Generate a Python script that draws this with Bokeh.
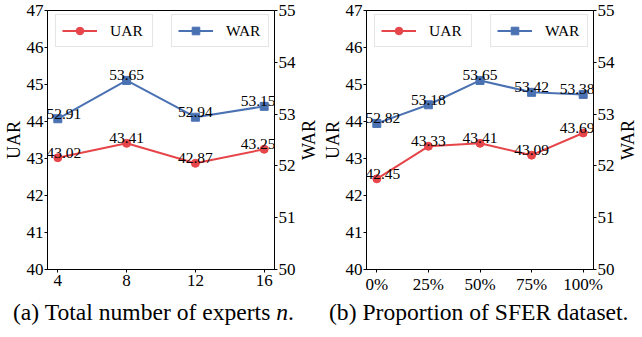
import math
from bokeh.plotting import figure
from bokeh.models import (Range1d, LinearAxis, FixedTicker, Legend, LegendItem,
                          Div, ColumnDataSource)
from bokeh.layouts import row, column
from bokeh.embed import file_html
from bokeh.resources import INLINE
from bokeh.core.properties import value

# ---- data ----
experts = [4, 8, 12, 16]
uar_experts = [43.02, 43.41, 42.87, 43.25]
war_experts = [52.91, 53.65, 52.94, 53.15]

proportions = ["0%", "25%", "50%", "75%", "100%"]
uar_prop = [42.45, 43.33, 43.41, 43.09, 43.69]
war_prop = [52.82, 53.18, 53.65, 53.42, 53.38]

uar_ticks = [40, 41, 42, 43, 44, 45, 46, 47]
war_ticks = [50, 51, 52, 53, 54, 55]

RED = "#E6454A"
BLUE = "#4A72B3"
FONT = "Liberation Serif"
FRAME_H = 259
FRAME_W = 227
B_TOP = 10
B_BOT = 24


def style_axis(ax):
    ax.axis_line_color = "black"
    ax.axis_line_width = 1
    ax.major_tick_line_color = "black"
    ax.major_tick_line_width = 1
    ax.major_tick_out = 3
    ax.major_tick_in = 0
    ax.minor_tick_line_color = None
    ax.major_label_text_font = FONT
    ax.major_label_text_font_size = "17px"
    ax.major_label_text_color = "black"
    ax.major_label_standoff = 1
    ax.axis_label_text_font = FONT
    ax.axis_label_text_font_size = "18px"
    ax.axis_label_text_font_style = "normal"
    ax.axis_label_text_color = "black"
    ax.axis_label_standoff = 0


def make_panel(xs, uar, war, xr, xticks, xlabels, bl, leg_x):
    p = figure(frame_width=FRAME_W, frame_height=FRAME_H, output_backend="svg",
               toolbar_location=None, x_range=Range1d(*xr), y_range=Range1d(40, 47),
               min_border_left=bl, min_border_right=22, min_border_top=B_TOP,
               min_border_bottom=B_BOT)
    p.background_fill_color = "white"
    p.border_fill_color = "white"
    p.outline_line_color = "black"
    p.outline_line_width = 1
    p.xgrid.visible = False
    p.ygrid.visible = False
    p.extra_y_ranges = {"war": Range1d(50, 55)}

    p.xaxis.ticker = FixedTicker(ticks=xticks)
    if xlabels is not None:
        p.xaxis.major_label_overrides = {t: l for t, l in zip(xticks, xlabels)}
    p.yaxis.ticker = FixedTicker(ticks=uar_ticks)
    p.yaxis.axis_label = "UAR"
    rax = LinearAxis(y_range_name="war", ticker=FixedTicker(ticks=war_ticks))
    p.add_layout(rax, "right")
    for ax in [p.xaxis[0], p.yaxis[0], rax]:
        style_axis(ax)
    p.xaxis.major_label_standoff = 2

    lu = p.line(xs, uar, line_color=RED, line_width=2)
    su = p.scatter(xs, uar, marker="circle", size=8, fill_color=RED, line_color=RED)
    lw = p.line(xs, war, line_color=BLUE, line_width=2, y_range_name="war")
    sw = p.scatter(xs, war, marker="square", size=8, fill_color=BLUE, line_color=BLUE,
                   y_range_name="war")

    n = len(xs)
    shifts = [6] + [0] * (n - 2) + [-6]
    src_u = ColumnDataSource(dict(x=xs, y=uar, t=[f"{v:.2f}" for v in uar], dx=shifts))
    src_w = ColumnDataSource(dict(x=xs, y=war, t=[f"{v:.2f}" for v in war], dx=shifts))
    for src, rng in [(src_u, "default"), (src_w, "war")]:
        p.text(x="x", y="y", text="t", x_offset="dx", y_offset=-5, source=src,
               y_range_name=rng, text_font=value(FONT), text_font_size="15.5px",
               text_align="center", text_baseline="alphabetic", text_color="black")

    for (name, rends), lx in zip([("UAR", [lu, su]), ("WAR", [lw, sw])], leg_x):
        leg = Legend(items=[LegendItem(label=name, renderers=rends)],
                     location=(lx, FRAME_H - 8 - 29),
                     label_text_font=FONT, label_text_font_size="15.5px",
                     label_text_color="black",
                     glyph_width=35, glyph_height=19, label_height=19, label_width=36,
                     label_standoff=13, padding=6, margin=0, spacing=0,
                     border_line_color="#cccccc", border_line_width=1,
                     background_fill_color="white", background_fill_alpha=0.8)
        p.add_layout(leg)
    return p


def side_label(text, w):
    # narrow strip carrying the right-hand axis title, read bottom-to-top
    q = figure(frame_width=w, frame_height=FRAME_H, output_backend="svg",
               toolbar_location=None, x_range=Range1d(0, 1), y_range=Range1d(0, 1),
               x_axis_location=None, y_axis_location=None,
               min_border_left=0, min_border_right=0, min_border_top=B_TOP,
               min_border_bottom=B_BOT)
    q.outline_line_color = None
    q.xgrid.visible = False
    q.ygrid.visible = False
    q.background_fill_color = "white"
    q.border_fill_color = "white"
    q.text(x=[0.5], y=[0.5], text=[text], angle=math.pi / 2, text_align="center",
           text_baseline="middle", text_font=value(FONT), text_font_size="18px",
           text_color="black")
    return q


p1 = make_panel(experts, uar_experts, war_experts, (3.4, 16.6), experts, None,
                43, (8, 124))
idx = list(range(len(proportions)))
p2 = make_panel(idx, uar_prop, war_prop, (-0.2, 4.2), idx, proportions,
                43, (8, 124))
w1 = side_label("WAR", 21)
w2 = side_label("WAR", 21)

cap_style = {"font-family": FONT, "font-size": "23.6px", "color": "black",
             "white-space": "nowrap"}
d1 = Div(text="(a) Total number of experts <i>n</i>.", width=299, height=30,
         margin=(0, 0, 0, 13), styles=cap_style)
d2 = Div(text="(b) Proportion of SFER dataset.", width=296, height=30,
         margin=(0, 0, 0, 17), styles=cap_style)

layout = column(row(p1, w1, p2, w2), row(d1, d2))
open("out.html", "w").write(file_html(layout, INLINE))
